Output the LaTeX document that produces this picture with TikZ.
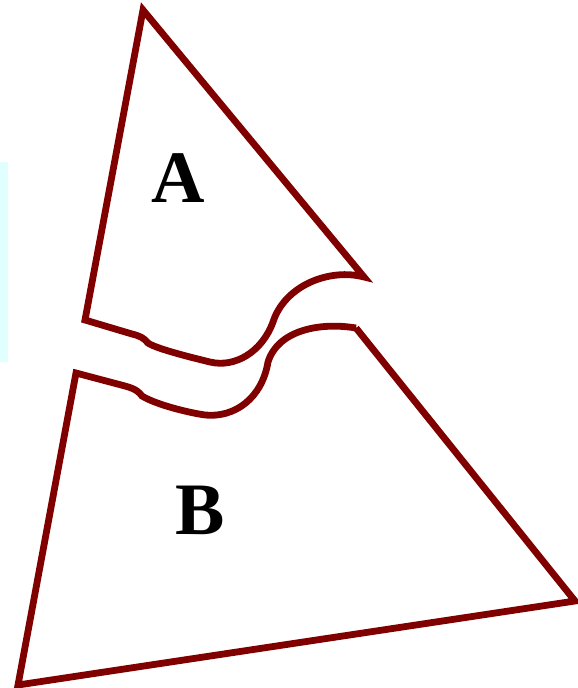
\documentclass[tikz,border=0pt]{standalone}
\usepackage{fontspec}
\setmainfont{Liberation Serif}
\usepackage{tikz}
\usetikzlibrary{positioning}

\definecolor{piece}{HTML}{800000}
\definecolor{paleband}{HTML}{E0FFFF}

\begin{document}
\begin{tikzpicture}[x=1pt,y=-1pt,
  edge/.style={draw=piece,line width=6.8pt},
  lbl/.style={inner sep=0pt,font=\fontsize{74}{80}\selectfont\bfseries}]
  \useasboundingbox (0,0) rectangle (578,688);
  \fill[paleband] (0,162) rectangle (8,362);
  % piece A
  \coordinate (a1) at (143,10);
  \coordinate (a2) at (364,277);
  \coordinate (a3) at (85,320);
  \draw[edge] (a1) -- (a2)
    .. controls (330,268) and (285,285) .. (273,322)
    .. controls (262,352) and (235,368) .. (210,362)
    .. controls (185,356) and (155,348) .. (148,343)
    .. controls (144,338) and (140,336) .. (132,334)
    -- (a3) -- cycle;
  % piece B
  \coordinate (b1) at (356,328);
  \coordinate (b2) at (575,601);
  \coordinate (b3) at (18,685);
  \coordinate (b4) at (76,373);
  \draw[edge] (b1) -- (b2) -- (b3) -- (b4)
    -- (125,386)
    .. controls (136,389) and (139,392) .. (142,396)
    .. controls (155,404) and (185,412) .. (205,415)
    .. controls (235,418) and (262,398) .. (268,362)
    .. controls (278,330) and (320,322) .. (b1);
  \node[lbl] (A) at (178,178) {A};
  \node[lbl] (B) at (200,510) {B};
\end{tikzpicture}
\end{document}
